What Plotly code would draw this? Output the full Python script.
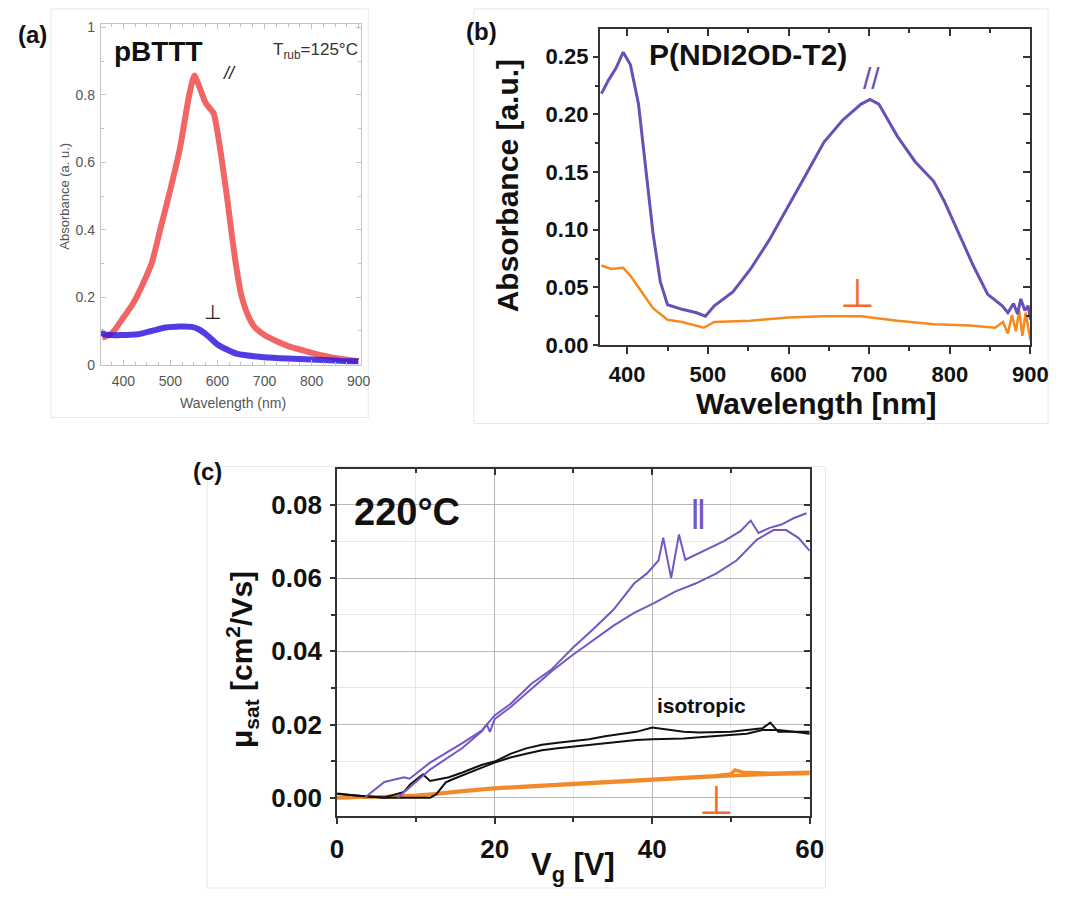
import plotly.graph_objects as go

W, H = 1068, 901

# ---------------- Panel (a): pBTTT absorbance ----------------
a_par_wl = [355, 370, 380, 400, 420, 440, 460, 480, 500, 520, 540, 551, 560, 575, 592, 600,
            610, 620, 630, 640, 650, 665, 680, 700, 725, 750, 775, 800, 825, 850, 875, 900]
a_par_abs = [0.08, 0.088, 0.10, 0.14, 0.18, 0.235, 0.30, 0.41, 0.52, 0.64, 0.80, 0.858, 0.83,
             0.776, 0.745, 0.69, 0.60, 0.50, 0.39, 0.29, 0.21, 0.146, 0.11, 0.088, 0.07, 0.055,
             0.045, 0.035, 0.027, 0.02, 0.015, 0.01]
a_perp_wl = [352, 360, 380, 400, 430, 460, 490, 520, 545, 560, 580, 600, 620, 640, 660, 700,
             750, 800, 850, 880, 900]
a_perp_abs = [0.10, 0.09, 0.087, 0.088, 0.09, 0.10, 0.11, 0.113, 0.112, 0.105, 0.085, 0.06,
              0.045, 0.033, 0.028, 0.022, 0.018, 0.015, 0.012, 0.01, 0.01]
a_xticks = [400, 500, 600, 700, 800, 900]
a_yticks = [0, 0.2, 0.4, 0.6, 0.8, 1.0]
a_ytext = ["0", "0.2", "0.4", "0.6", "0.8", "1"]

# ---------------- Panel (b): P(NDI2OD-T2) absorbance ----------------
b_par_wl = [368, 377, 386, 395, 404, 414, 423, 432, 441, 450, 468, 486, 497, 508, 531, 553,
            576, 599, 621, 644, 667, 690, 701, 712, 735, 757, 780, 793, 811, 829, 847, 865,
            872, 879, 884, 888, 893, 897, 900]
b_par_abs = [0.218, 0.230, 0.240, 0.254, 0.243, 0.209, 0.153, 0.097, 0.055, 0.035, 0.031,
             0.028, 0.025, 0.034, 0.046, 0.066, 0.091, 0.119, 0.147, 0.176, 0.195, 0.209,
             0.213, 0.209, 0.181, 0.159, 0.142, 0.125, 0.097, 0.069, 0.044, 0.034, 0.028,
             0.036, 0.027, 0.040, 0.030, 0.034, 0.022]
b_perp_wl = [368, 380, 395, 404, 418, 432, 450, 468, 495, 508, 553, 599, 644, 690, 735, 780,
             825, 856, 866, 872, 877, 882, 886, 890, 894, 898, 900]
b_perp_abs = [0.069, 0.066, 0.067, 0.060, 0.046, 0.032, 0.022, 0.020, 0.015, 0.020, 0.021,
              0.024, 0.025, 0.025, 0.021, 0.018, 0.017, 0.015, 0.020, 0.010, 0.026, 0.012,
              0.030, 0.008, 0.028, 0.010, 0.004]
b_xticks = [400, 500, 600, 700, 800, 900]
b_yticks = [0, 0.05, 0.10, 0.15, 0.20, 0.25]
b_ytext = ["0.00", "0.05", "0.10", "0.15", "0.20", "0.25"]

# ---------------- Panel (c): saturation mobility ----------------
c_parA_vg = [3.5, 6, 8.5, 9.2, 11.8, 15.9, 18.4, 19.0, 19.4, 20, 22, 24.6, 27.2, 29.9,
             32.5, 35.1, 37.7, 40.3, 42.9, 45.5, 48.1, 50.7, 53.3, 55.4, 57, 58.6, 60]
c_parA_mu = [0.0, 0.0043, 0.0056, 0.0052, 0.0096, 0.0149, 0.0184, 0.0200,
             0.0180, 0.0215, 0.0247, 0.0296, 0.0345, 0.0390, 0.0429, 0.0470, 0.0505, 0.0532,
             0.0563, 0.0585, 0.0612, 0.0648, 0.0705, 0.0731, 0.0731, 0.0709, 0.0674]
c_parB_vg = [7.7, 9.3, 11.8, 15.9, 18.4, 19, 20, 22, 24.6, 27.2, 29.9, 32.5, 35.1, 37.7, 39.3,
             40.8, 41.4, 42.4, 43.4, 44.2, 46.5, 49.1, 51.2, 52.5, 53.5, 54.9, 56.4, 58, 59.6]
c_parB_mu = [0.0, 0.0029, 0.0077, 0.0136, 0.0182, 0.0200, 0.0225, 0.0256, 0.0310, 0.0350,
             0.0409, 0.0460, 0.0514, 0.0585, 0.0612, 0.0648, 0.0710, 0.0600, 0.0719, 0.0650,
             0.0674, 0.0701, 0.0728, 0.0757, 0.0723, 0.0737, 0.0746, 0.0764, 0.0777]
c_isoA_vg = [0, 3, 6, 8.5, 9.3, 10.9, 11.8, 12.6, 14.2, 15.9, 18.4, 20, 22, 24, 26, 28, 30, 32,
             34, 36, 38, 40, 42, 44, 46, 48, 50, 52, 54, 55, 56, 58, 60]
c_isoA_mu = [0.0012, 0.0005, 0.0001, 0.0016, 0.0037, 0.0064, 0.0046, 0.0050, 0.0056, 0.0069,
             0.0090, 0.0099, 0.0120, 0.0135, 0.0145, 0.0150, 0.0155, 0.0160, 0.0168, 0.0175,
             0.0180, 0.0192, 0.0185, 0.0180, 0.0178, 0.0178, 0.0180, 0.0185, 0.0190, 0.0205,
             0.0180, 0.0180, 0.0175]
c_isoB_vg = [0, 3, 6, 8.5, 11.8, 12.6, 13.8, 14.6, 16.7, 18.7, 20, 22, 24, 26, 28, 30, 32, 34,
             36, 38, 40, 42, 44, 46, 48, 50, 52, 54, 56, 58, 60]
c_isoB_mu = [0.0010, 0.0004, 0.0, 0.0, 0.0, 0.0010, 0.0042, 0.0050, 0.0069, 0.0085, 0.0096,
             0.0110, 0.0120, 0.0130, 0.0135, 0.0140, 0.0145, 0.0150, 0.0155, 0.0158, 0.0160,
             0.0160, 0.0162, 0.0165, 0.0168, 0.0170, 0.0175, 0.0185, 0.0185, 0.0180, 0.0180]
c_perpA_vg = [0, 5, 10, 12, 15, 20, 25, 30, 35, 40, 45, 48, 50, 50.5, 51.5, 55, 60]
c_perpA_mu = [0.0, 0.0002, 0.0007, 0.0010, 0.0017, 0.0027, 0.0033, 0.0039, 0.0045, 0.0050,
              0.0056, 0.0060, 0.0065, 0.0076, 0.0070, 0.0067, 0.0070]
c_perpB_vg = [0, 10, 20, 30, 40, 50, 55, 60]
c_perpB_mu = [0.0, 0.0005, 0.0025, 0.0037, 0.0048, 0.0060, 0.0064, 0.0066]
c_xticks = [0, 20, 40, 60]
c_yticks = [0, 0.02, 0.04, 0.06, 0.08]
c_ytext = ["0.00", "0.02", "0.04", "0.06", "0.08"]


def fx(px):
    return px / W


def fy(py):
    return 1 - py / H


SANS = "Liberation Sans, Arial, Helvetica, sans-serif"
PURPLE_B = "#6a4fb5"
ORANGE_B = "#f58a1f"
PURPLE_C = "#7556c4"
ORANGE_C = "#f28a2a"
PERP_RED = "#f26a2c"

fig = go.Figure()

# panel (a)
fig.add_trace(go.Scatter(x=a_par_wl, y=a_par_abs, mode="lines", xaxis="x", yaxis="y",
                         line=dict(color="rgba(236,50,50,0.75)", width=6, shape="spline", smoothing=0.6)))
fig.add_trace(go.Scatter(x=a_perp_wl, y=a_perp_abs, mode="lines", xaxis="x", yaxis="y",
                         line=dict(color="rgba(50,25,225,0.85)", width=6, shape="spline", smoothing=0.6)))
# panel (b)
fig.add_trace(go.Scatter(x=b_perp_wl, y=b_perp_abs, mode="lines", xaxis="x2", yaxis="y2",
                         line=dict(color=ORANGE_B, width=2.5)))
fig.add_trace(go.Scatter(x=b_par_wl, y=b_par_abs, mode="lines", xaxis="x2", yaxis="y2",
                         line=dict(color=PURPLE_B, width=3)))
# panel (c)
fig.add_trace(go.Scatter(x=c_perpA_vg, y=c_perpA_mu, mode="lines", xaxis="x3", yaxis="y3",
                         line=dict(color=ORANGE_C, width=3.5)))
fig.add_trace(go.Scatter(x=c_perpB_vg, y=c_perpB_mu, mode="lines", xaxis="x3", yaxis="y3",
                         line=dict(color=ORANGE_C, width=3.5)))
fig.add_trace(go.Scatter(x=c_isoA_vg, y=c_isoA_mu, mode="lines", xaxis="x3", yaxis="y3",
                         line=dict(color="#111111", width=2)))
fig.add_trace(go.Scatter(x=c_isoB_vg, y=c_isoB_mu, mode="lines", xaxis="x3", yaxis="y3",
                         line=dict(color="#111111", width=2)))
fig.add_trace(go.Scatter(x=c_parA_vg, y=c_parA_mu, mode="lines", xaxis="x3", yaxis="y3",
                         line=dict(color=PURPLE_C, width=2)))
fig.add_trace(go.Scatter(x=c_parB_vg, y=c_parB_mu, mode="lines", xaxis="x3", yaxis="y3",
                         line=dict(color=PURPLE_C, width=2)))
# empty traces to carry the inside-tick overlay axes (top / right)
for xa, ya in [("x5", "y2"), ("x2", "y5"), ("x6", "y3"), ("x3", "y6")]:
    fig.add_trace(go.Scatter(x=[], y=[], xaxis=xa, yaxis=ya, hoverinfo="skip"))

gray_tick = dict(family=SANS, size=14, color="#555555")
bold22 = dict(family=SANS, size=22, color="#111111", weight="bold")
bold26 = dict(family=SANS, size=26, color="#111111", weight="bold")

layout = dict(
    width=W, height=H, margin=dict(l=0, r=0, t=0, b=0),
    paper_bgcolor="white", plot_bgcolor="white", showlegend=False,
    # ----- (a)
    xaxis=dict(domain=[fx(96), fx(362)], range=[352, 904], anchor="y", showline=True,
               linecolor="#c4c4c4", linewidth=1, mirror="ticks", ticks="inside", ticklen=5,
               tickcolor="#c4c4c4", tickvals=a_xticks, tickfont=gray_tick, showgrid=False,
               zeroline=False, ticklabelstandoff=4,
               minor=dict(ticks="inside", ticklen=3, dtick=25, tick0=350, tickcolor="#c4c4c4")),
    yaxis=dict(domain=[fy(367), fy(19.6)], range=[0, 1.01], anchor="x", showline=True,
               linecolor="#c4c4c4", linewidth=1, mirror="ticks", ticks="inside", ticklen=5,
               tickcolor="#c4c4c4", tickvals=a_yticks, ticktext=a_ytext, tickfont=gray_tick,
               showgrid=False, zeroline=False, ticklabelstandoff=2,
               ticklabeloverflow="allow",
               minor=dict(ticks="inside", ticklen=3, dtick=0.1, tickcolor="#c4c4c4")),
    # ----- (b)
    xaxis2=dict(domain=[fx(607), fx(1048)], range=[366, 900], anchor="y2", showline=True,
                linecolor="#333333", linewidth=2, mirror=True, ticks="outside", ticklen=7,
                tickwidth=2, tickcolor="#333333", tickvals=b_xticks, tickfont=bold22,
                showgrid=False, zeroline=False, ticklabelstandoff=2,
                minor=dict(ticks="outside", ticklen=4, tickwidth=1.5, dtick=50, tick0=350,
                           tickcolor="#333333")),
    yaxis2=dict(domain=[fy(347), fy(24)], range=[0, 0.2745], anchor="x2", showline=True,
                linecolor="#333333", linewidth=2, mirror=True, ticks="outside", ticklen=5,
                tickwidth=2, tickcolor="#333333", tickvals=b_yticks, ticktext=b_ytext,
                tickfont=bold22, showgrid=False, zeroline=False, ticklabelstandoff=0,
                minor=dict(ticks="outside", ticklen=3, tickwidth=1.5, dtick=0.025,
                           tickcolor="#333333")),
    xaxis5=dict(overlaying="x2", side="top", anchor="y2", range=[366, 900], ticks="inside",
                ticklen=7, tickwidth=2, tickcolor="#333333", tickvals=b_xticks,
                showticklabels=False, showgrid=False, zeroline=False, showline=False,
                minor=dict(ticks="inside", ticklen=4, tickwidth=1.5, dtick=50, tick0=350,
                           tickcolor="#333333")),
    yaxis5=dict(overlaying="y2", side="right", anchor="x2", range=[0, 0.2745], ticks="inside",
                ticklen=7, tickwidth=2, tickcolor="#333333", tickvals=b_yticks,
                showticklabels=False, showgrid=False, zeroline=False, showline=False,
                minor=dict(ticks="inside", ticklen=4, tickwidth=1.5, dtick=0.025,
                           tickcolor="#333333")),
    # ----- (c)
    xaxis3=dict(domain=[fx(338), fx(822)], range=[0, 60], anchor="y3", showline=True,
                linecolor="#333333", linewidth=2, mirror=True, ticks="outside", ticklen=6,
                tickwidth=2, tickcolor="#333333", tickvals=c_xticks, tickfont=bold26,
                showgrid=True, gridcolor="#b8b8b8", gridwidth=1, zeroline=False,
                ticklabelstandoff=2,
                minor=dict(ticks="outside", ticklen=4, tickwidth=1.5, dtick=10,
                           tickcolor="#333333", showgrid=True, gridcolor="#e6e6e6")),
    yaxis3=dict(domain=[fy(828), fy(473)], range=[-0.0051, 0.0899], anchor="x3", showline=True,
                linecolor="#333333", linewidth=2, mirror=True, ticks="outside", ticklen=5,
                tickwidth=2, tickcolor="#333333", tickvals=c_yticks, ticktext=c_ytext,
                tickfont=bold26, showgrid=True, gridcolor="#b8b8b8", gridwidth=1,
                zeroline=False, ticklabelstandoff=3,
                minor=dict(ticks="outside", ticklen=4, tickwidth=1.5, dtick=0.01, tick0=0,
                           tickcolor="#333333", showgrid=True, gridcolor="#e6e6e6")),
    xaxis6=dict(overlaying="x3", side="top", anchor="y3", range=[0, 60], ticks="inside",
                ticklen=6, tickwidth=2, tickcolor="#333333", tickvals=c_xticks,
                showticklabels=False, showgrid=False, zeroline=False, showline=False,
                minor=dict(ticks="inside", ticklen=4, tickwidth=1.5, dtick=10,
                           tickcolor="#333333")),
    yaxis6=dict(overlaying="y3", side="right", anchor="x3", range=[-0.0051, 0.0899],
                ticks="inside", ticklen=6, tickwidth=2, tickcolor="#333333", tickvals=c_yticks,
                showticklabels=False, showgrid=False, zeroline=False, showline=False,
                minor=dict(ticks="inside", ticklen=4, tickwidth=1.5, dtick=0.01, tick0=0,
                           tickcolor="#333333")),
)
fig.update_layout(**layout)

# faint panel frames
for x0, y0, x1, y1 in [(45, 4, 370, 421), (478, 4, 1066, 427), (205, 471, 838, 901)]:
    fig.add_shape(type="rect", xref="paper", yref="paper", x0=fx(x0), x1=fx(x1),
                  y0=fy(y1), y1=fy(y0), line=dict(color="#e8e8e8", width=1), layer="below")


def ann(text, px, py, size, color="#111111", bold=False, angle=0, family=SANS, italic=False):
    f = dict(family=family, size=size, color=color)
    if bold:
        f["weight"] = "bold"
    if italic:
        f["style"] = "italic"
    fig.add_annotation(text=text, x=fx(px), y=fy(py), xref="paper", yref="paper",
                       showarrow=False, xanchor="center", yanchor="middle", font=f,
                       textangle=angle)


# panel letters
ann("(a)", 26, 30, 24, bold=True)
ann("(b)", 486, 27, 24, bold=True)
ann("(c)", 205, 476, 24, bold=True)

# (a) texts
ann("pBTTT", 155, 47, 28, bold=True)
ann("T<sub>rub</sub>=125°C", 316, 47, 17, color="#333333")
ann("//", 227, 69, 18, color="#222222", italic=True)
ann("⊥", 210, 313, 20, color="#222222")
ann("Absorbance (a. u.)", 58, 195, 13, color="#555555", angle=-90)
ann("Wavelength (nm)", 231, 406, 14, color="#555555")

# (b) texts
ann("P(NDI2OD-T2)", 759, 51, 30, bold=True)
ann("//", 885, 75, 30, color=PURPLE_B)
ann("⊥", 871, 294, 40, color=PERP_RED)
ann("Absorbance [a.u.]", 512, 185, 30, bold=True, angle=-90)
ann("Wavelength [nm]", 829, 407, 30, bold=True)

# (c) texts
ann("220°C", 410, 517, 38, bold=True)
ann("‖", 708, 520, 40, color=PURPLE_C)
ann("isotropic", 711, 715, 21, bold=True)
ann("⊥", 727, 811, 40, color=PERP_RED)
ann("μ<sub>sat</sub> [cm<sup>2</sup>/Vs]", 240, 668, 30, bold=True, angle=-90)
ann("V<sub>g</sub> [V]", 580, 880, 31, bold=True)

fig.write_html("out.html")
